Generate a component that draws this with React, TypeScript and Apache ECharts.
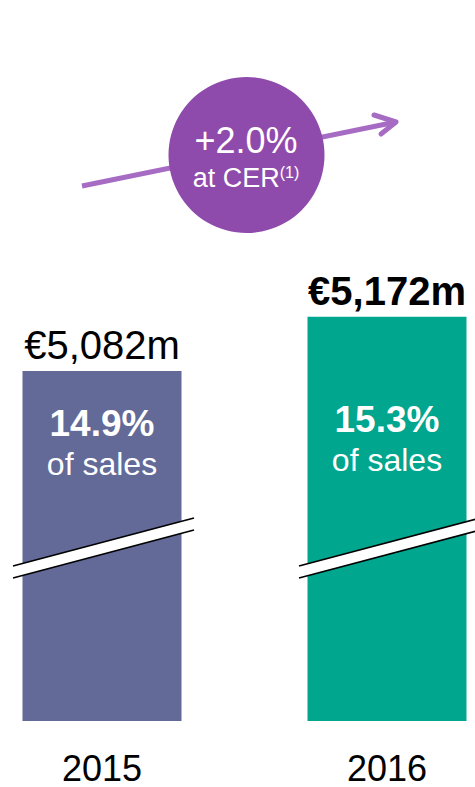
import React, { useEffect, useRef } from "react";
import * as echarts from "echarts";

const categories = ["2015", "2016"];
const values = [5082, 5172];
const valueLabels = ["€5,082m", "€5,172m"];
const shareLabels = ["14.9%", "15.3%"];
const shareSuffix = "of sales";
const growthLabel = "+2.0%";
const growthNote = "at CER";
const growthFootnote = "(1)";

const FONT = "'Liberation Sans', Arial, sans-serif";
const barColors = ["#636a98", "#00a68e"];
const innerOffsets = [28, 78];

export default function App() {
  const ref = useRef<HTMLDivElement>(null);
  useEffect(() => {
    if (!ref.current) return;
    const chart = echarts.init(ref.current, null, { renderer: "svg" });
    const breakBand = (x0: number, y0: number, x1: number, y1: number) => [
      {
        type: "polygon",
        z: 100,
        shape: { points: [[x0, y0], [x1, y1], [x1, y1 + 12], [x0, y0 + 12]] },
        style: { fill: "#ffffff" },
      },
      {
        type: "line",
        z: 101,
        shape: { x1: x0, y1: y0, x2: x1, y2: y1 },
        style: { stroke: "#000", lineWidth: 1.6 },
      },
      {
        type: "line",
        z: 101,
        shape: { x1: x0, y1: y0 + 12, x2: x1, y2: y1 + 12 },
        style: { stroke: "#000", lineWidth: 1.6 },
      },
    ];
    chart.setOption({
      animation: false,
      textStyle: { fontFamily: FONT },
      grid: { left: 102, right: 88, top: 119.6, bottom: 66 },
      xAxis: {
        type: "category",
        data: categories,
        boundaryGap: false,
        axisLine: { show: false },
        axisTick: { show: false },
        axisLabel: { fontSize: 36, color: "#000", margin: 29, fontFamily: FONT },
      },
      yAxis: {
        type: "value",
        min: 4500,
        max: 5500,
        show: false,
        splitLine: { show: false },
      },
      series: [
        {
          type: "bar",
          barWidth: 159,
          data: values.map((v, i) => ({
            value: v,
            itemStyle: { color: barColors[i] },
            label: { fontWeight: i === 1 ? "bold" : "normal" },
          })),
          label: {
            show: true,
            position: "top",
            distance: 6,
            fontSize: 40,
            color: "#000",
            fontFamily: FONT,
            formatter: (p: any) => valueLabels[p.dataIndex],
          },
        },
        {
          type: "bar",
          barWidth: 159,
          barGap: "-100%",
          z: 3,
          itemStyle: { color: "rgba(0,0,0,0)" },
          data: values.map((v, i) => ({
            value: v,
            label: { offset: [0, innerOffsets[i]] },
          })),
          label: {
            show: true,
            position: "insideTop",
            formatter: (p: any) => `{p|${shareLabels[p.dataIndex]}}\n{s|${shareSuffix}}`,
            rich: {
              p: { fontSize: 37, fontWeight: "bold", color: "#fff", lineHeight: 40, fontFamily: FONT },
              s: { fontSize: 32, color: "#fff", lineHeight: 40, fontFamily: FONT },
            },
          },
        },
      ],
      graphic: [
        {
          type: "polyline",
          z: 50,
          shape: { points: [[82, 186], [396, 122]] },
          style: { stroke: "#a66bc3", lineWidth: 5, fill: null },
        },
        {
          type: "polyline",
          z: 50,
          shape: { points: [[374, 115], [396, 122], [381, 134]] },
          style: { stroke: "#a66bc3", lineWidth: 5, fill: null, lineCap: "round", lineJoin: "round" },
        },
        {
          type: "circle",
          z: 60,
          shape: { cx: 246.5, cy: 155, r: 78 },
          style: { fill: "#8f4bab" },
        },
        {
          type: "text",
          z: 61,
          x: 246,
          y: 140,
          style: {
            text: growthLabel,
            fill: "#fff",
            fontSize: 36,
            fontFamily: FONT,
            align: "center",
            verticalAlign: "middle",
          },
        },
        {
          type: "text",
          z: 61,
          x: 246,
          y: 178,
          style: {
            text: `{a|${growthNote}}{b|${growthFootnote}}`,
            fill: "#fff",
            align: "center",
            verticalAlign: "middle",
            rich: {
              a: { fontSize: 27, fill: "#fff", fontFamily: FONT },
              b: { fontSize: 16, fill: "#fff", fontFamily: FONT, verticalAlign: "top", padding: [0, 0, 10, 0] },
            },
          },
        },
        ...breakBand(13, 566, 194, 518),
        ...breakBand(299, 566, 480, 518),
      ],
    });
    return () => chart.dispose();
  }, []);
  return (
    <div
      ref={ref}
      style={{ position: "fixed", left: 0, top: 0, width: 475, height: 787, background: "#fff" }}
    />
  );
}
